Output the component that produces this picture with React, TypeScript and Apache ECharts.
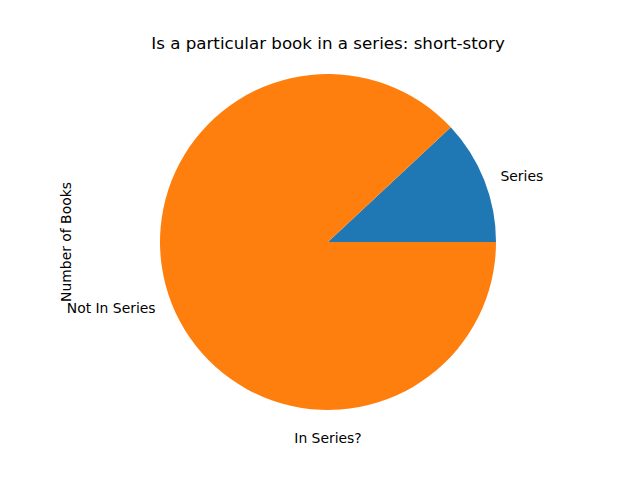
import React, { useEffect, useRef } from "react";
import * as echarts from "echarts";

const categories = ["Series", "Not In Series"];
const counts = [11, 81];
const colors = ["#1f77b4", "#ff7f0e"];
const titleText = "Is a particular book in a series: short-story";
const xLabel = "In Series?";
const yLabel = "Number of Books";

export default function App() {
  const ref = useRef<HTMLDivElement>(null);
  useEffect(() => {
    if (!ref.current) return;
    const chart = echarts.init(ref.current, null, { renderer: "svg" });
    const font = "DejaVu Sans";
    chart.setOption({
      animation: false,
      backgroundColor: "#ffffff",
      textStyle: { fontFamily: font },
      graphic: [
        {
          type: "text",
          x: 328,
          y: 43,
          style: {
            text: titleText,
            font: `16.7px "${font}"`,
            fill: "#000",
            textAlign: "center",
            textVerticalAlign: "middle",
          },
        },
        {
          type: "text",
          x: 328,
          y: 438,
          style: {
            text: xLabel,
            font: `13.9px "${font}"`,
            fill: "#000",
            textAlign: "center",
            textVerticalAlign: "middle",
          },
        },
        {
          type: "text",
          x: 66,
          y: 242,
          rotation: Math.PI / 2,
          style: {
            text: yLabel,
            font: `13.9px "${font}"`,
            fill: "#000",
            textAlign: "center",
            textVerticalAlign: "middle",
          },
        },
      ],
      series: [
        {
          type: "pie",
          center: [328, 242],
          radius: 168,
          startAngle: 0,
          clockwise: false,
          avoidLabelOverlap: false,
          data: categories.map((c, i) => ({
            name: c,
            value: counts[i],
            itemStyle: { color: colors[i] },
          })),
          label: {
            show: true,
            position: "outside",
            formatter: "{b}",
            color: "#000",
            fontSize: 13.9,
            fontFamily: font,
            alignTo: "none",
          },
          labelLine: { show: false, length: 12, length2: 0 },
          emphasis: { disabled: true },
        },
      ],
    });
    return () => chart.dispose();
  }, []);
  return (
    <div
      ref={ref}
      style={{ position: "fixed", left: 0, top: 0, width: 640, height: 480 }}
    />
  );
}
